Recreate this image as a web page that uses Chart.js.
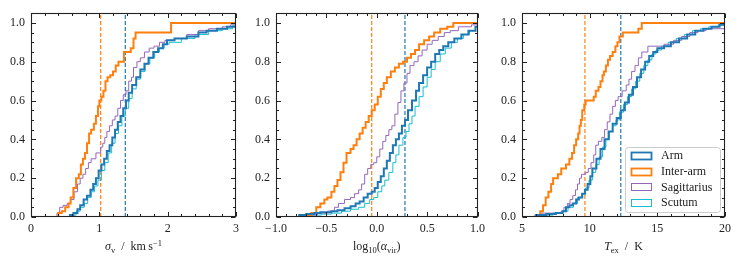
<!DOCTYPE html>
<html>
<head>
<meta charset="utf-8">
<script src="https://cdn.jsdelivr.net/npm/chart.js@4.4.0/dist/chart.umd.min.js"></script>
<style>
  html, body { margin:0; padding:0; background:#fff; }
  #wrap { position:relative; width:744px; height:260px; overflow:hidden; }
  canvas { position:absolute; top:0; }
</style>
</head>
<body>
<div id="wrap">
  <canvas id="c1" width="245" height="260" style="left:0px"></canvas>
  <canvas id="c2" width="245" height="260" style="left:245px"></canvas>
  <canvas id="c3" width="245" height="260" style="left:491px"></canvas>
</div>
<script>
// ---------------- DATA ----------------
const seriesNames = ['Arm', 'Inter-arm', 'Sagittarius', 'Scutum'];
const yTicks = [0.0, 0.2, 0.4, 0.6, 0.8, 1.0];

// Panel 1: velocity dispersion sigma_v (km/s)
const sigTicks = [0, 1, 2, 3];
const sigArmX = [0.57,0.62,0.68,0.72,0.77,0.82,0.87,0.91,0.95,0.99,1.03,1.07,1.11,1.15,1.19,1.23,1.27,1.31,1.35,1.39,1.43,1.48,1.54,1.60,1.66,1.72,1.79,1.86,1.93,1.99,2.10,2.28,2.45,2.57,2.72,2.87];
const sigArmY = [0.01,0.02,0.04,0.06,0.09,0.11,0.14,0.17,0.20,0.24,0.27,0.30,0.34,0.37,0.41,0.45,0.49,0.52,0.56,0.60,0.64,0.68,0.72,0.76,0.79,0.82,0.85,0.87,0.89,0.91,0.92,0.93,0.95,0.96,0.97,0.98];
const sigIaX = [0.40,0.45,0.50,0.55,0.58,0.62,0.66,0.70,0.73,0.76,0.79,0.82,0.85,0.88,0.92,0.95,0.98,1.00,1.03,1.06,1.09,1.12,1.16,1.20,1.24,1.28,1.36,1.46,1.50,1.53,2.05];
const sigIaY = [0.02,0.03,0.05,0.07,0.10,0.15,0.20,0.22,0.27,0.30,0.33,0.38,0.43,0.45,0.48,0.52,0.57,0.60,0.62,0.65,0.70,0.72,0.73,0.75,0.78,0.80,0.85,0.87,0.92,0.95,1.00];
const sigSagX = [0.38,0.42,0.47,0.53,0.58,0.63,0.68,0.72,0.76,0.80,0.84,0.88,0.95,1.02,1.05,1.08,1.11,1.15,1.19,1.23,1.27,1.31,1.35,1.39,1.43,1.47,1.50,1.55,1.60,1.66,1.73,1.80,1.88,1.96,2.10,2.28,2.45,2.60,2.80,2.92];
const sigSagY = [0.02,0.05,0.06,0.07,0.09,0.13,0.17,0.20,0.22,0.25,0.28,0.30,0.33,0.36,0.38,0.41,0.44,0.47,0.50,0.52,0.56,0.60,0.63,0.65,0.70,0.72,0.77,0.80,0.82,0.85,0.87,0.88,0.90,0.91,0.92,0.94,0.96,0.97,0.98,0.99];
const sigScuX = [0.60,0.66,0.72,0.78,0.83,0.88,0.93,0.98,1.03,1.08,1.13,1.18,1.23,1.28,1.33,1.38,1.43,1.48,1.54,1.60,1.67,1.74,1.81,1.88,1.95,2.02,2.20,2.40,2.60,2.80,2.95];
const sigScuY = [0.01,0.03,0.05,0.07,0.10,0.13,0.16,0.19,0.24,0.28,0.33,0.38,0.43,0.47,0.52,0.56,0.61,0.66,0.71,0.75,0.79,0.82,0.85,0.87,0.89,0.90,0.92,0.94,0.96,0.97,0.985];
const sigMedians = [1.38, 1.02]; // Arm, Inter-arm

// Panel 2: log10(alpha_vir)
const avTicks = [-1.0, -0.5, 0.0, 0.5, 1.0];
const avArmX = [-0.77,-0.70,-0.62,-0.56,-0.45,-0.39,-0.32,-0.26,-0.21,-0.17,-0.13,-0.09,-0.05,-0.02,0.01,0.04,0.07,0.10,0.13,0.16,0.19,0.22,0.25,0.28,0.31,0.35,0.39,0.42,0.46,0.50,0.54,0.58,0.62,0.66,0.71,0.77,0.84,0.91,0.98];
const avArmY = [0.01,0.015,0.02,0.025,0.03,0.035,0.045,0.055,0.07,0.08,0.10,0.12,0.13,0.15,0.18,0.21,0.25,0.29,0.33,0.37,0.40,0.43,0.47,0.50,0.55,0.60,0.65,0.69,0.73,0.77,0.80,0.84,0.86,0.88,0.90,0.92,0.94,0.96,0.98];
const avIaX = [-0.69,-0.65,-0.60,-0.56,-0.52,-0.49,-0.45,-0.42,-0.39,-0.36,-0.33,-0.30,-0.26,-0.23,-0.20,-0.17,-0.14,-0.11,-0.08,-0.05,-0.02,0.01,0.04,0.07,0.10,0.14,0.18,0.22,0.26,0.30,0.34,0.38,0.42,0.47,0.52,0.57,0.63,0.70,0.76];
const avIaY = [0.01,0.02,0.05,0.07,0.09,0.10,0.13,0.16,0.19,0.23,0.28,0.33,0.35,0.37,0.40,0.43,0.46,0.49,0.52,0.55,0.58,0.62,0.66,0.69,0.72,0.75,0.77,0.79,0.80,0.82,0.84,0.86,0.89,0.91,0.93,0.95,0.97,0.98,1.00];
const avSagX = [-0.69,-0.59,-0.49,-0.42,-0.38,-0.32,-0.26,-0.22,-0.18,-0.15,-0.12,-0.09,-0.06,-0.03,0.00,0.03,0.06,0.09,0.12,0.15,0.18,0.21,0.24,0.27,0.30,0.33,0.37,0.41,0.45,0.50,0.55,0.61,0.67,0.73,0.81,0.94];
const avSagY = [0.01,0.02,0.03,0.05,0.07,0.09,0.10,0.12,0.14,0.17,0.22,0.25,0.27,0.28,0.31,0.35,0.39,0.42,0.45,0.47,0.53,0.59,0.65,0.69,0.74,0.78,0.80,0.83,0.86,0.89,0.91,0.93,0.95,0.96,0.98,0.99];
const avScuX = [-0.77,-0.65,-0.55,-0.45,-0.35,-0.26,-0.18,-0.12,-0.07,-0.03,0.01,0.05,0.08,0.12,0.16,0.19,0.22,0.26,0.29,0.32,0.35,0.38,0.42,0.46,0.50,0.54,0.58,0.63,0.68,0.74,0.80,0.86,0.92,0.98];
const avScuY = [0.005,0.01,0.015,0.02,0.03,0.04,0.05,0.07,0.09,0.10,0.13,0.16,0.19,0.23,0.28,0.32,0.37,0.41,0.44,0.48,0.52,0.57,0.62,0.67,0.72,0.76,0.80,0.84,0.87,0.90,0.92,0.94,0.96,0.98];
const avMedians = [0.28, -0.05];

// Panel 3: excitation temperature T_ex (K)
const texTicks = [5, 10, 15, 20];
const texArmX = [6.05,6.80,7.50,8.00,8.25,8.50,8.75,9.00,9.20,9.45,9.65,9.85,10.05,10.20,10.50,10.80,11.10,11.40,11.70,12.00,12.30,12.60,12.90,13.20,13.50,13.80,14.10,14.40,14.70,15.00,15.50,16.00,16.60,17.20,17.80,18.40,19.00,19.60];
const texArmY = [0.01,0.015,0.02,0.03,0.05,0.06,0.07,0.09,0.10,0.12,0.14,0.17,0.21,0.25,0.30,0.35,0.40,0.44,0.48,0.51,0.55,0.59,0.63,0.67,0.72,0.76,0.80,0.83,0.85,0.87,0.88,0.90,0.92,0.94,0.96,0.97,0.98,0.99];
const texIaX = [6.15,6.35,6.55,6.75,6.95,7.15,7.30,7.65,7.90,8.25,8.50,8.70,8.85,9.00,9.15,9.25,9.35,9.45,9.60,9.70,10.30,10.45,10.65,10.80,10.95,11.05,11.20,11.35,11.50,11.70,11.90,12.05,12.20,12.45,13.60,13.85];
const texIaY = [0.01,0.03,0.06,0.10,0.13,0.17,0.20,0.22,0.25,0.27,0.30,0.33,0.37,0.40,0.43,0.47,0.50,0.55,0.58,0.60,0.62,0.65,0.67,0.70,0.73,0.75,0.78,0.81,0.83,0.85,0.88,0.90,0.93,0.95,0.97,1.00];
const texSagX = [5.95,6.35,7.90,8.10,8.35,8.55,8.75,8.95,9.10,9.25,9.40,9.70,9.90,10.10,10.30,10.45,10.65,10.90,11.10,11.30,11.50,11.70,11.90,12.10,12.40,12.70,12.90,13.10,13.35,13.60,13.85,14.30,15.50,16.20,16.80,17.40,18.00,18.60];
const texSagY = [0.01,0.02,0.03,0.05,0.07,0.09,0.11,0.14,0.17,0.20,0.22,0.23,0.25,0.28,0.32,0.37,0.39,0.41,0.45,0.49,0.53,0.57,0.60,0.62,0.65,0.68,0.71,0.75,0.78,0.82,0.85,0.88,0.89,0.91,0.93,0.95,0.96,0.97];
const texScuX = [6.15,7.30,8.00,8.40,8.80,9.10,9.40,9.70,9.95,10.20,10.45,10.70,10.95,11.20,11.45,11.70,11.95,12.20,12.50,12.80,13.10,13.40,13.70,14.00,14.30,14.60,14.90,15.30,15.80,16.40,17.00,17.60,18.20,18.80,19.50];
const texScuY = [0.01,0.02,0.03,0.05,0.07,0.10,0.12,0.15,0.19,0.23,0.27,0.31,0.36,0.40,0.44,0.47,0.50,0.54,0.58,0.62,0.66,0.70,0.74,0.78,0.81,0.84,0.86,0.88,0.90,0.92,0.94,0.96,0.97,0.98,0.99];
const texMedians = [12.3, 9.65];

// ---------------- STYLE ----------------
const COLORS = ['#1f77b4', '#ff7f0e', '#9467bd', '#17becf'];
const WIDTHS = [2, 2, 1, 1];
const FONT = '"Liberation Serif", "DejaVu Serif", serif';
const INK = '#222';

function cdfPoints(xs, ys, xmin, xmax) {
  const pts = [{x: xmin, y: 0}];
  for (let i = 0; i < xs.length; i++) pts.push({x: xs[i], y: ys[i]});
  pts.push({x: xmax, y: ys[ys.length - 1]});
  return pts;
}

const axisPlugin = {
  id: 'axisDecor',
  afterDraw(chart) {
    const o = chart.options.plugins.axisDecor;
    const ctx = chart.ctx, a = chart.chartArea, xs = chart.scales.x, ys = chart.scales.y;
    ctx.save();
    ctx.strokeStyle = INK;
    ctx.lineWidth = 1;
    const L = Math.round(a.left) + 0.5, R = Math.round(a.right) - 0.5;
    const T = Math.round(a.top) + 0.5, B = Math.round(a.bottom) - 0.5;
    ctx.beginPath();
    const xTick = (v, len) => {
      const p = Math.round(xs.getPixelForValue(v)) + 0.5;
      ctx.moveTo(p, B); ctx.lineTo(p, B - len);
      ctx.moveTo(p, T); ctx.lineTo(p, T + len);
    };
    const yTick = (v, len) => {
      const p = Math.round(ys.getPixelForValue(v)) + 0.5;
      ctx.moveTo(L, p); ctx.lineTo(L + len, p);
      ctx.moveTo(R, p); ctx.lineTo(R - len, p);
    };
    const nx = Math.round((xs.max - xs.min) / o.xMinor);
    for (let i = 0; i <= nx; i++) {
      const v = xs.min + i * o.xMinor;
      const isMajor = o.xMajor.some(m => Math.abs(m - v) < 1e-6);
      xTick(v, isMajor ? 4.5 : 2.5);
    }
    const ny = Math.round((ys.max - ys.min) / o.yMinor);
    for (let i = 0; i <= ny; i++) {
      const v = ys.min + i * o.yMinor;
      const isMajor = yTicks.some(m => Math.abs(m - v) < 1e-6);
      yTick(v, isMajor ? 4.5 : 2.5);
    }
    ctx.stroke();
    ctx.lineWidth = 1.1;
    ctx.strokeRect(L, T, R - L, B - T);

    // axis title with sub/superscripts
    const segs = o.title;
    const base = 12, small = 8.5;
    const fontOf = s => (s.it ? 'italic ' : '') + (s.sub || s.sup ? small : base) + 'px ' + FONT;
    let total = 0;
    segs.forEach(s => { ctx.font = fontOf(s); total += ctx.measureText(s.t).width; });
    let x = (a.left + a.right) / 2 - total / 2;
    const yb = 250;
    ctx.fillStyle = INK;
    ctx.textBaseline = 'alphabetic';
    ctx.textAlign = 'left';
    segs.forEach(s => {
      ctx.font = fontOf(s);
      const dy = s.sub ? 3 : (s.sup ? -4.5 : 0);
      ctx.fillText(s.t, x, yb + dy);
      x += ctx.measureText(s.t).width;
    });

    // legend
    if (o.legend) {
      const lx = a.right - 100, ly = a.bottom - 70, lw = 95, lh = 65;
      ctx.fillStyle = 'rgba(255,255,255,0.85)';
      ctx.strokeStyle = '#cccccc';
      ctx.lineWidth = 1;
      ctx.beginPath();
      ctx.roundRect(Math.round(lx) + 0.5, Math.round(ly) + 0.5, lw, lh, 3);
      ctx.fill(); ctx.stroke();
      ctx.font = '12px ' + FONT;
      ctx.textBaseline = 'middle';
      seriesNames.forEach((name, i) => {
        const cy = ly + 8.5 + i * 15.7;
        ctx.strokeStyle = COLORS[i];
        ctx.lineWidth = WIDTHS[i] === 2 ? 1.8 : 1;
        ctx.strokeRect(lx + 6.5, Math.round(cy - 3.5) + 0.5, 20, 7);
        ctx.fillStyle = INK;
        ctx.fillText(name, lx + 36, cy + 0.5);
      });
    }
    ctx.restore();
  }
};

function makeChart(id, cfg) {
  const datasets = [];
  cfg.series.forEach((s, i) => {
    datasets.push({
      label: seriesNames[i],
      data: cdfPoints(s[0], s[1], cfg.xmin, cfg.xmax),
      borderColor: COLORS[i],
      borderWidth: WIDTHS[i],
      stepped: 'before',
      pointRadius: 0,
      fill: false,
      tension: 0
    });
  });
  cfg.medians.forEach((m, i) => {
    datasets.push({
      label: '',
      data: [{x: m, y: 0}, {x: m, y: 1.05}],
      borderColor: COLORS[i],
      borderWidth: 1.2,
      borderDash: [4, 2],
      pointRadius: 0,
      fill: false
    });
  });
  return new Chart(document.getElementById(id), {
    type: 'line',
    data: { datasets },
    plugins: [axisPlugin],
    options: {
      responsive: false,
      animation: false,
      devicePixelRatio: 1,
      events: [],
      layout: { padding: { top: 10, right: 9, left: 0, bottom: 0 } },
      plugins: {
        legend: { display: false },
        tooltip: { enabled: false },
        axisDecor: { xMajor: cfg.ticks, xMinor: cfg.xMinor, yMinor: 0.05, title: cfg.title, legend: cfg.legend }
      },
      scales: {
        x: {
          type: 'linear', min: cfg.xmin, max: cfg.xmax,
          grid: { display: false, drawTicks: false },
          border: { display: false },
          afterBuildTicks: s => { s.ticks = cfg.ticks.map(v => ({ value: v })); },
          afterFit: s => { s.height = 43; },
          ticks: {
            color: INK, padding: 5, maxRotation: 0, autoSkip: false,
            font: { family: FONT, size: 12 },
            callback: cfg.fmt
          }
        },
        y: {
          type: 'linear', min: 0, max: 1.05,
          grid: { display: false, drawTicks: false },
          border: { display: false },
          afterBuildTicks: s => { s.ticks = yTicks.map(v => ({ value: v })); },
          afterFit: s => { s.width = 31; },
          ticks: {
            color: INK, padding: 6, autoSkip: false,
            font: { family: FONT, size: 12 },
            callback: v => v.toFixed(1)
          }
        }
      }
    }
  });
}

makeChart('c1', {
  xmin: 0, xmax: 3, ticks: sigTicks, xMinor: 0.2,
  fmt: v => String(v),
  series: [[sigArmX, sigArmY], [sigIaX, sigIaY], [sigSagX, sigSagY], [sigScuX, sigScuY]],
  medians: sigMedians,
  title: [{t: 'σ', it: true}, {t: 'v', sub: true}, {t: '  /  km\u2009s'}, {t: '−1', sup: true}],
  legend: false
});
makeChart('c2', {
  xmin: -1, xmax: 1, ticks: avTicks, xMinor: 0.1,
  fmt: v => (v < 0 ? '−' : '') + Math.abs(v).toFixed(1),
  series: [[avArmX, avArmY], [avIaX, avIaY], [avSagX, avSagY], [avScuX, avScuY]],
  medians: avMedians,
  title: [{t: 'log'}, {t: '10', sub: true}, {t: '('}, {t: 'α', it: true}, {t: 'vir', sub: true}, {t: ')'}],
  legend: false
});
makeChart('c3', {
  xmin: 5, xmax: 20, ticks: texTicks, xMinor: 1,
  fmt: v => String(v),
  series: [[texArmX, texArmY], [texIaX, texIaY], [texSagX, texSagY], [texScuX, texScuY]],
  medians: texMedians,
  title: [{t: 'T', it: true}, {t: 'ex', sub: true}, {t: '  /  K'}],
  legend: true
});
</script>
</body>
</html>
